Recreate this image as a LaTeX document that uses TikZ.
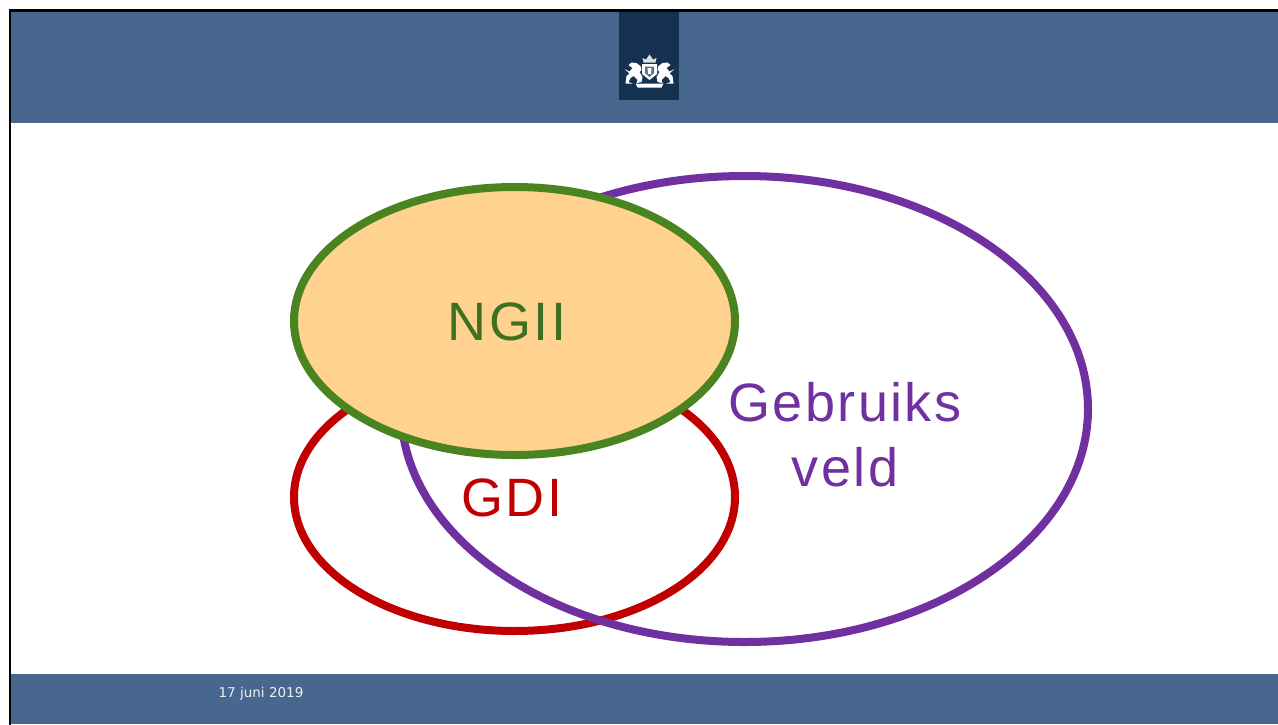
\documentclass[tikz,border=0pt]{standalone}
\usepackage{fontspec}
\setmainfont{Liberation Sans}
\newfontfamily\datefont{DejaVu Sans}
\usetikzlibrary{shapes.geometric}
\definecolor{bandblue}{HTML}{47678F}
\definecolor{logoblue}{HTML}{14314F}
\definecolor{ngiifill}{HTML}{FFD28F}
\definecolor{ngiigreen}{HTML}{4A8421}
\definecolor{ngiitext}{HTML}{3F7022}
\definecolor{gdired}{HTML}{C00000}
\definecolor{veldpurple}{HTML}{7030A0}
\newcommand{\crestlion}{%
	\fill (-25,69) -- (-20,71.5) -- (-17,68) -- (-21,65) -- (-18,62.5) -- (-13,63) -- (-9,66) -- (-8,70) -- (-10,72)
		-- (-7,77) -- (-8,82) -- (-13,83) -- (-12,80) -- (-16,76) -- (-19,78) -- (-21,82) -- (-17,83.5) -- (-24,83.5) -- (-23,76) -- (-20,73.5) -- cycle;
}
\begin{document}
\begin{tikzpicture}[x=1pt,y=-1pt]
	\tikzset{
		venn/.style={ellipse,draw,line width=8pt,outer sep=0pt,inner sep=0pt},
		label/.style={font=\fontsize{54}{65}\selectfont\addfontfeature{LetterSpace=4.4},align=center,inner sep=0pt},
		band/.style={fill=bandblue,draw=none}
	}
	\useasboundingbox (0,0) rectangle (1278,724);
	\fill[white] (0,0) rectangle (1278,724);
	% bands
	\path[band] (10,11) rectangle (1278,123);
	\path[band] (10,674) rectangle (1278,724);
	\fill[logoblue] (619,11) rectangle (679,100);
	\draw[line width=2.5pt,line cap=rect] (10.2,724) -- (10.2,10.7) -- (1278,10.7);
	% crest
	\begin{scope}[shift={(649.5,0)},white]
		\fill[white!85!logoblue] (-6,62.5) -- (-7,58) -- (-3.5,59.5) -- (0,54.5) -- (3.5,59.5) -- (7,58) -- (6,62.5) -- cycle;
		\fill (-7.5,64) -- (7.5,64) -- (7.5,74) -- (0,80) -- (-7.5,74) -- cycle;
		\fill[logoblue!70!white] (-4.5,66.5) -- (4.5,66.5) -- (4.5,73) -- (0,77) -- (-4.5,73) -- cycle;
		\fill[white] (-2,68) -- (2,68) -- (1.5,74) -- (-1.5,74) -- cycle;
		\crestlion
		\begin{scope}[xscale=-1]
			\crestlion
		\end{scope}
		\fill (-14,83.5) -- (14,83.5) -- (12,87.5) -- (-12,87.5) -- cycle;
	\end{scope}
	% venn
	\node[venn,draw=gdired,minimum width=441pt,minimum height=268pt] (gdi) at (514.5,497) {};
	\node[venn,draw=veldpurple,minimum width=687pt,minimum height=466pt] (veld) at (744.5,409) {};
	\node[venn,draw=ngiigreen,fill=ngiifill,minimum width=441pt,minimum height=268pt] (ngii) at (514.5,321) {};
	% labels
	\node[label,text=ngiitext] (ngiilabel) at (507,322) {NGII};
	\node[label,text=gdired] (gdilabel) at (512,498) {GDI};
	\node[label,text=veldpurple] (veldlabel) at (845,435) {Gebruiks\\veld};
	\node[text=white!90!bandblue,font=\datefont\fontsize{13.5}{16}\selectfont,inner sep=0pt] (date) at (261,693.5) {17 juni 2019};
\end{tikzpicture}
\end{document}
